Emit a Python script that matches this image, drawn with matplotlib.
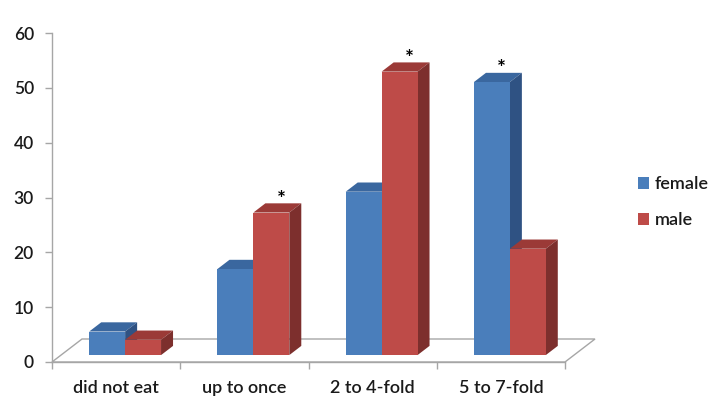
import matplotlib
matplotlib.use("Agg")
import matplotlib.pyplot as plt
from matplotlib.patches import Polygon
import numpy as np

# ---- data -------------------------------------------------------------
categories = ["did not eat", "up to once", "2 to 4-fold", "5 to 7-fold"]
female = [4.3, 15.7, 29.8, 49.8]
male = [2.8, 26.0, 51.7, 19.4]
female_star = [False, False, False, True]
male_star = [False, True, True, False]
y_ticks = [0, 10, 20, 30, 40, 50, 60]

# ---- style ------------------------------------------------------------
plt.rcParams['font.family'] = ['Lato', 'DejaVu Sans']
plt.rcParams['font.weight'] = 'semibold'
text_color = '#1a1a1a'
axis_color = '#a6a6a6'

W, H = 727, 399
fig = plt.figure(figsize=(W / 100, H / 100), dpi=100)
ax = fig.add_axes([52 / W, 37 / H, 513 / W, 329 / H])
ax.set_xlim(0, len(categories))
ax.set_ylim(y_ticks[0], y_ticks[-1])

# pseudo-3D offsets (pixel sizes turned into data units)
px_x = len(categories) / 513
px_y = (y_ticks[-1] - y_ticks[0]) / 329
floor_dx, floor_dy = 30 * px_x, 23 * px_y
bar_front = 0.3   # depth fraction where bar fronts sit
bar_back = 0.7
bx0, by0 = bar_front * floor_dx, bar_front * floor_dy
bdx, bdy = (bar_back - bar_front) * floor_dx, (bar_back - bar_front) * floor_dy
bar_w = 0.28

# floor
n = len(categories)
floor = Polygon([(0, 0), (n, 0), (n + floor_dx, floor_dy), (floor_dx, floor_dy)],
                closed=True, facecolor='white', edgecolor=axis_color, lw=1.0,
                zorder=1, clip_on=False)
ax.add_patch(floor)

series = [
    ("female", female, female_star, '#4a7ebb', '#3a679f', '#2f5283'),
    ("male", male, male_star, '#be4b48', '#9b3a37', '#7d2f2d'),
]

handles = []
idx = np.arange(n)
for j, (label, vals, stars, face, top, side) in enumerate(series):
    z = 3 + j
    x_left = idx + 0.5 - bar_w + j * bar_w + bx0
    bars = ax.bar(x_left, vals, width=bar_w, bottom=by0, align='edge',
                  color=face, edgecolor='none', label=label, zorder=z + 0.5,
                  clip_on=False)
    handles.append(bars)
    for xl, v, st in zip(x_left, vals, stars):
        yt = by0 + v
        xr = xl + bar_w
        ax.add_patch(Polygon([(xl, yt), (xr, yt), (xr + bdx, yt + bdy), (xl + bdx, yt + bdy)],
                             closed=True, facecolor=top, edgecolor='none',
                             zorder=z, clip_on=False))
        ax.add_patch(Polygon([(xr, by0), (xr + bdx, by0 + bdy), (xr + bdx, yt + bdy), (xr, yt)],
                             closed=True, facecolor=side, edgecolor='none',
                             zorder=z, clip_on=False))
        if st:
            ax.text(xl + bar_w / 2 + 0.075, yt + bdy - 1.2, "*", ha='center',
                    va='bottom', fontsize=15, fontweight='bold', color='black',
                    zorder=10)

# axes styling
for s in ['top', 'right']:
    ax.spines[s].set_visible(False)
for s in ['left', 'bottom']:
    ax.spines[s].set_color(axis_color)
    ax.spines[s].set_linewidth(1.0)

ax.set_yticks(y_ticks)
ax.set_yticklabels([str(t) for t in y_ticks])
ax.tick_params(axis='y', direction='out', length=5, width=1, color=axis_color,
               labelsize=12.5, labelcolor=text_color, pad=8)

ax.set_xticks(idx + 0.5)
ax.set_xticklabels(categories)
ax.tick_params(axis='x', which='major', length=0, labelsize=13,
               labelcolor=text_color, pad=13)
ax.set_xticks(np.arange(n + 1), minor=True)
ax.tick_params(axis='x', which='minor', direction='out', length=5, width=1,
               color=axis_color)

leg = fig.legend(handles=handles, labels=[s[0] for s in series],
                 loc='upper left', bbox_to_anchor=(622 / W, 1 - 160 / H),
                 bbox_transform=fig.transFigure, frameon=False,
                 handlelength=0.62, handleheight=0.62, handletextpad=0.3,
                 labelspacing=1.1, fontsize=13)
for t in leg.get_texts():
    t.set_color(text_color)

fig.savefig("out.png", dpi=100)
